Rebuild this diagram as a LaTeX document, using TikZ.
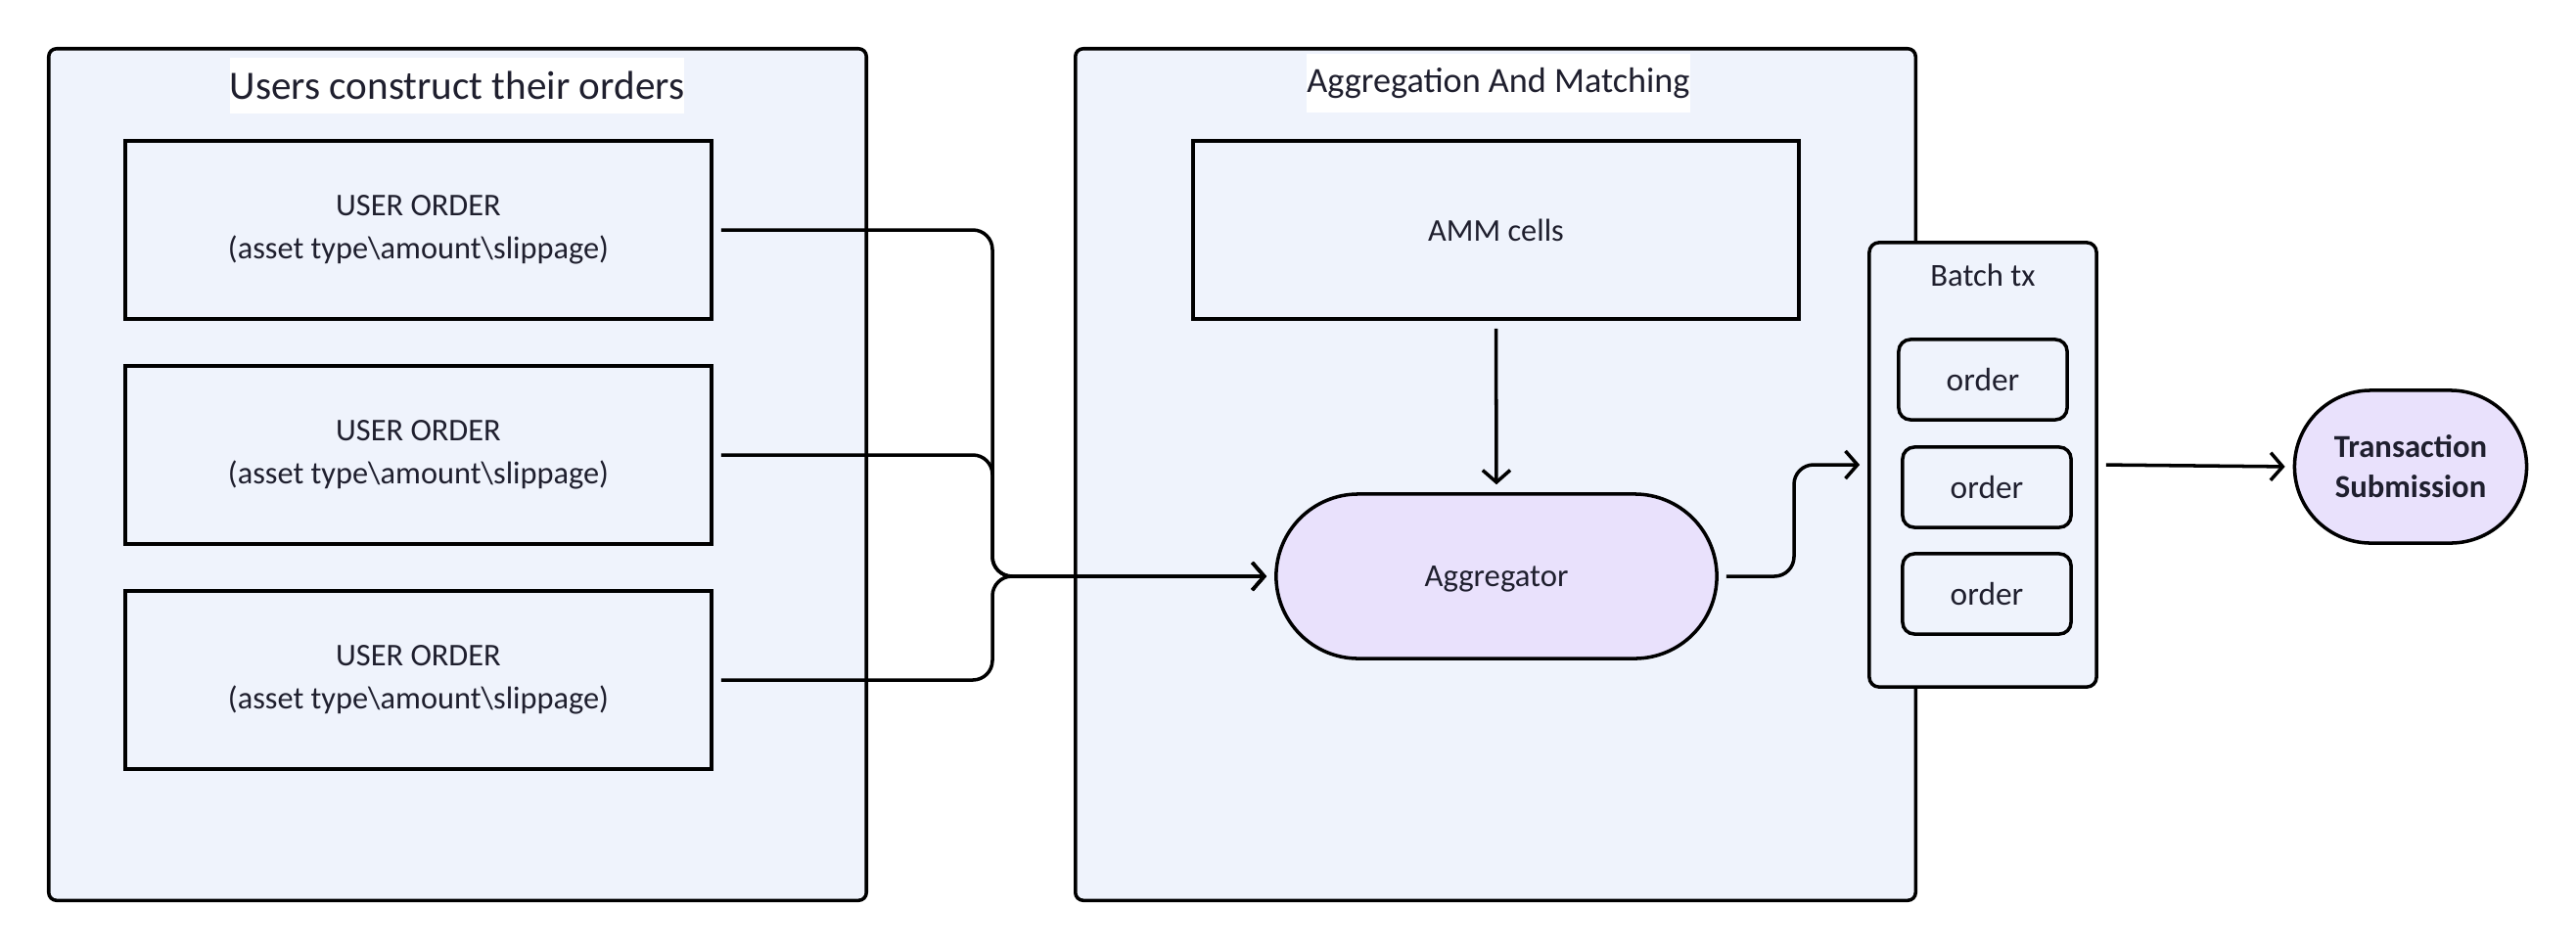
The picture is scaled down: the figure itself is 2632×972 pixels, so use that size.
\documentclass[tikz,border=0pt]{standalone}
\usepackage{fontspec}
\setmainfont{Carlito}
\usetikzlibrary{arrows.meta, positioning}
\definecolor{frameFill}{HTML}{EFF3FC}
\definecolor{aggFill}{HTML}{E9E1FC}
\definecolor{inkColor}{HTML}{1F1F2E}

\begin{document}
\begin{tikzpicture}[x=0.01cm, y=-0.01cm,
    frame/.style={draw, line width=1pt, fill=frameFill, rounded corners=0.08cm, inner sep=0pt},
    title/.style={fill=white, text=inkColor, inner xsep=0pt, inner ysep=4pt, font=\fontsize{11.7}{14}\selectfont},
    userbox/.style={draw, line width=1pt, fill=frameFill, text=inkColor, align=center,
        minimum width=5.99cm, minimum height=1.82cm, font=\fontsize{9.2}{12.4}\selectfont},
    pill/.style={draw, line width=1pt, fill=aggFill, text=inkColor, align=center},
    smallbox/.style={draw, line width=1pt, fill=frameFill, text=inkColor, rounded corners=0.12cm,
        minimum width=1.72cm, minimum height=0.82cm, font=\fontsize{9.5}{11}\selectfont},
    conn/.style={line width=1pt, rounded corners=0.2cm, shorten <=0.08cm, shorten >=0.08cm,
        -{Straight Barb[length=3.5pt, width=8pt]}}]
    \useasboundingbox (0,0) rectangle (2632,972);

    % containers
    \node[frame, minimum width=8.35cm, minimum height=8.7cm] (users) at (467.5,485) {};
    \node[frame, minimum width=8.58cm, minimum height=8.7cm] (matching) at (1528,485) {};
    \node[title] (usersTitle) at (467,87) {Users construct their orders};
    \node[title, font=\fontsize{10.3}{13}\selectfont] (matchingTitle) at (1531,85) {Aggregation And Matching};

    % user orders
    \node[userbox] (order1) at (427.5,235) {USER ORDER\\(asset type\textbackslash amount\textbackslash slippage)};
    \node[userbox] (order2) at (427.5,465) {USER ORDER\\(asset type\textbackslash amount\textbackslash slippage)};
    \node[userbox] (order3) at (427.5,695) {USER ORDER\\(asset type\textbackslash amount\textbackslash slippage)};

    % matching side
    \node[userbox, minimum width=6.19cm, text depth=0pt] (amm) at (1528.5,235) {AMM cells};
    \node[pill, minimum width=4.5cm, minimum height=1.68cm, rounded corners=0.84cm, text depth=0pt,
        font=\fontsize{9.3}{11}\selectfont] (agg) at (1529,589) {Aggregator};

    % batch
    \node[frame, rounded corners=0.1cm, minimum width=2.32cm, minimum height=4.54cm] (batch) at (2026,475) {};
    \node[text=inkColor, font=\fontsize{9.3}{11}\selectfont] (batchTitle) at (2026,281) {Batch tx};
    \node[smallbox] (tx1) at (2026,388) {order};
    \node[smallbox] (tx2) at (2030,498) {order};
    \node[smallbox] (tx3) at (2030,607) {order};

    \node[pill, minimum width=2.37cm, minimum height=1.56cm, rounded corners=0.78cm,
        font=\bfseries\fontsize{9.3}{11.6}\selectfont] (submit) at (2463,477) {Transaction\\Submission};

    % connectors
    \coordinate (merge) at (1014,589);
    \draw[conn] (order1.east) -| (merge) -- (agg.west);
    \draw[conn] (order2.east) -| (merge) -- (agg.west);
    \draw[conn] (order3.east) -| (merge) -- (agg.west);
    \draw[conn] (amm.south) -- (agg.north);
    \coordinate (bend) at (1833,475);
    \draw[conn] (agg.east) -| (bend) -- (batch.west);
    \draw[conn] (batch.east) -- (submit.west);
\end{tikzpicture}
\end{document}
